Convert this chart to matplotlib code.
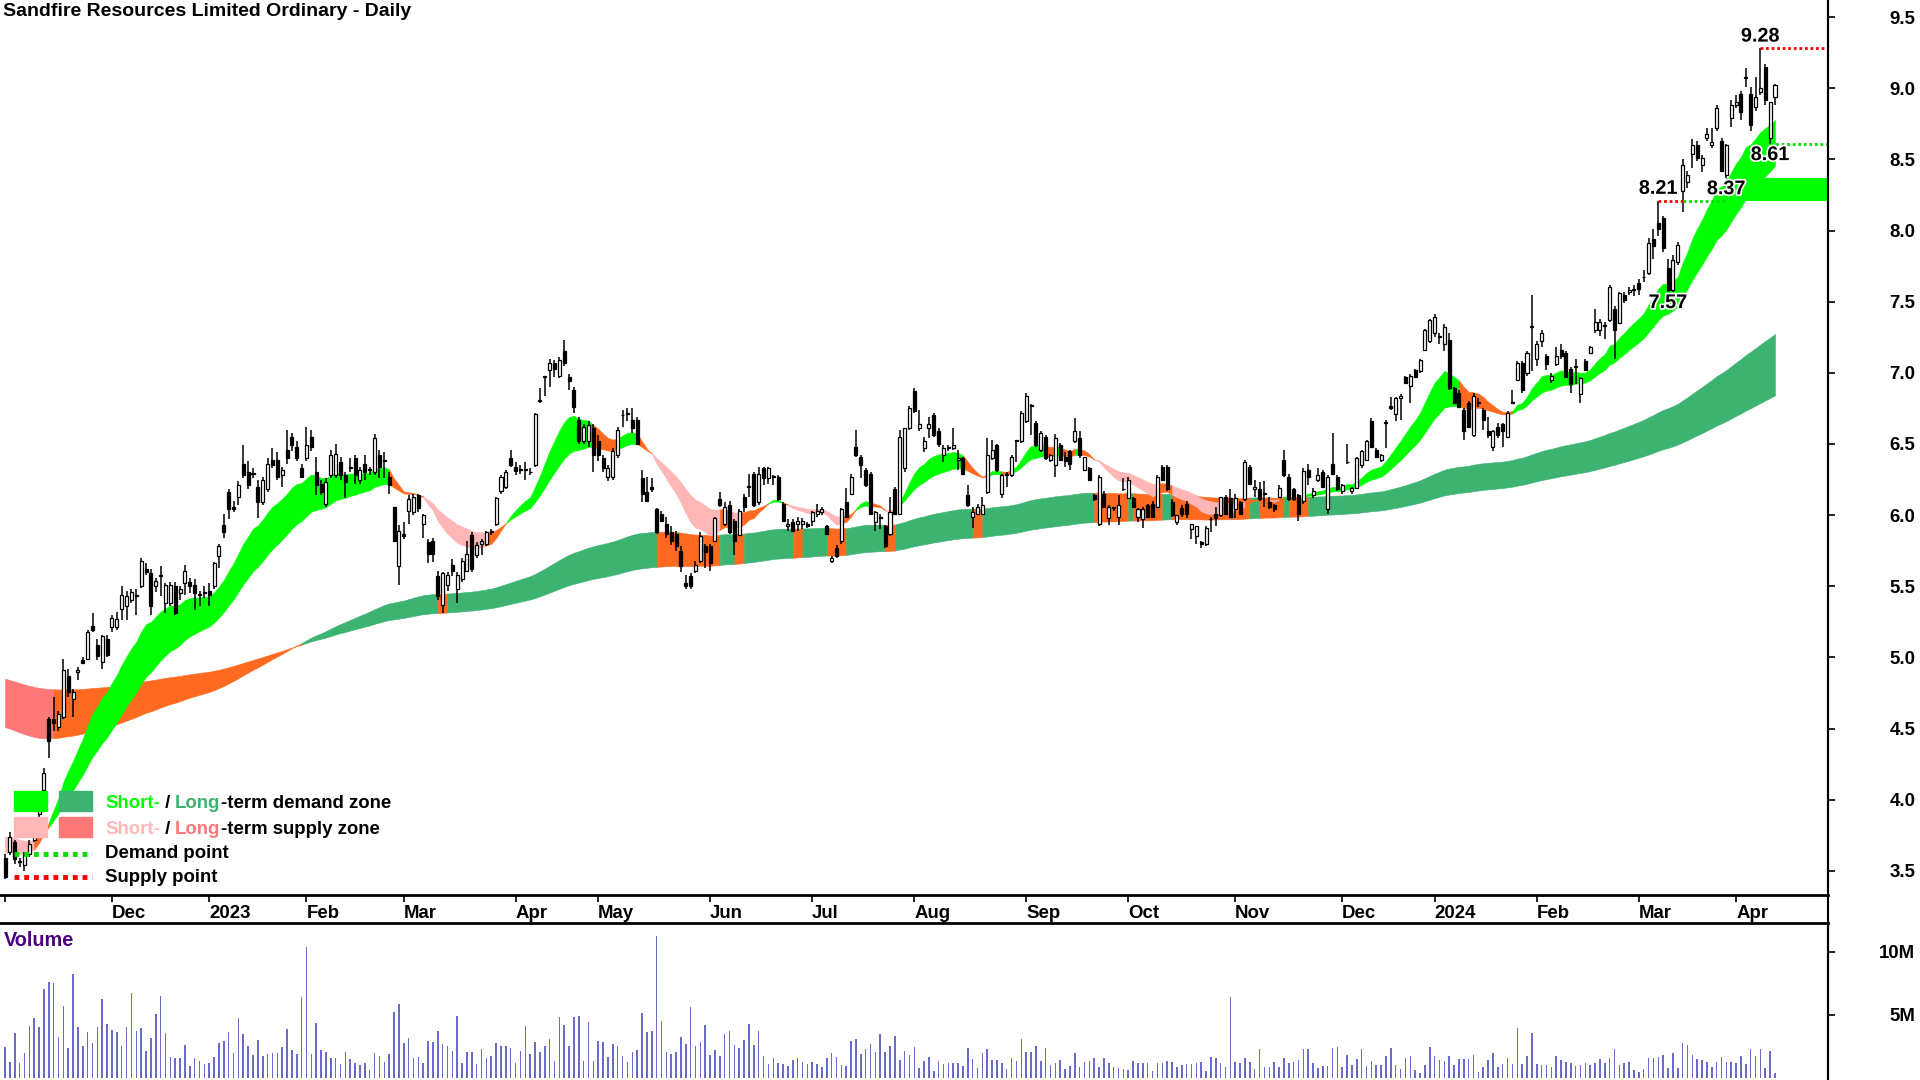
import numpy as np
import pandas as pd
import matplotlib
matplotlib.use("Agg")
import matplotlib.pyplot as plt
import matplotlib.patheffects as pe
from matplotlib import font_manager
from matplotlib.lines import Line2D
from matplotlib.patches import Rectangle
from matplotlib.offsetbox import TextArea, HPacker, AnnotationBbox

plt.rcParams['font.family'] = ['Liberation Sans', 'DejaVu Sans']
plt.rcParams['font.weight'] = 'bold'

# labels on the reference use a condensed bold face; fall back to normal width if missing
try:
    font_manager.findfont(font_manager.FontProperties(family="Liberation Sans Narrow"),
                          fallback_to_default=False)
    NARROW, SCALE = ["Liberation Sans Narrow", "Liberation Sans"], 1.0
except ValueError:
    NARROW, SCALE = ["Liberation Sans", "DejaVu Sans"], 0.84

title = "Sandfire Resources Limited Ordinary - Daily"

# daily candles (open, high, low, close)
nov22 = [(3.59, 3.62, 3.44, 3.46), (3.63, 3.77, 3.61, 3.74), (3.70, 3.72, 3.55, 3.58),
         (3.57, 3.59, 3.53, 3.56), (3.54, 3.63, 3.50, 3.61), (3.62, 3.72, 3.60, 3.69),
         (3.72, 3.84, 3.70, 3.81), (3.90, 4.06, 3.88, 4.02), (4.07, 4.22, 4.02, 4.19),
         (4.57, 4.58, 4.29, 4.41), (4.57, 4.72, 4.48, 4.54), (4.51, 4.62, 4.48, 4.60),
         (4.58, 4.99, 4.57, 4.91), (4.87, 4.92, 4.72, 4.76), (4.71, 4.78, 4.58, 4.76),
         (4.90, 4.93, 4.84, 4.91), (4.98, 5.00, 4.95, 4.96), (4.99, 5.19, 4.98, 5.18),
         (5.22, 5.31, 5.18, 5.19), (5.09, 5.13, 4.98, 5.01), (4.97, 5.16, 4.92, 5.15),
         (5.13, 5.16, 5.00, 5.02)]
dec22 = [(5.21, 5.30, 5.18, 5.28), (5.21, 5.32, 5.19, 5.27), (5.34, 5.50, 5.26, 5.44),
         (5.36, 5.47, 5.26, 5.43), (5.40, 5.48, 5.38, 5.46), (5.43, 5.48, 5.30, 5.43),
         (5.50, 5.70, 5.49, 5.68), (5.62, 5.66, 5.58, 5.60), (5.59, 5.62, 5.30, 5.36),
         (5.50, 5.56, 5.46, 5.54), (5.57, 5.64, 5.43, 5.57), (5.38, 5.52, 5.31, 5.51),
         (5.38, 5.53, 5.36, 5.51), (5.50, 5.53, 5.30, 5.31), (5.45, 5.50, 5.40, 5.48),
         (5.52, 5.65, 5.44, 5.61), (5.53, 5.56, 5.45, 5.50), (5.51, 5.55, 5.33, 5.45),
         (5.44, 5.47, 5.36, 5.44), (5.45, 5.50, 5.42, 5.45)]
jan23 = [(5.47, 5.52, 5.36, 5.44), (5.50, 5.67, 5.48, 5.66), (5.71, 5.80, 5.63, 5.78),
         (5.93, 6.01, 5.84, 5.88), (6.16, 6.18, 5.97, 6.04), (6.06, 6.10, 6.02, 6.04),
         (6.13, 6.24, 6.07, 6.21), (6.36, 6.49, 6.26, 6.28), (6.30, 6.38, 6.18, 6.21),
         (6.29, 6.33, 6.26, 6.29), (6.20, 6.25, 5.98, 6.09), (6.09, 6.27, 6.07, 6.25),
         (6.18, 6.40, 6.16, 6.36), (6.39, 6.47, 6.33, 6.35), (6.39, 6.44, 6.25, 6.27),
         (6.28, 6.34, 6.20, 6.32), (6.46, 6.60, 6.36, 6.40), (6.55, 6.58, 6.45, 6.49),
         (6.48, 6.52, 6.38, 6.40), (6.33, 6.36, 6.26, 6.27)]
feb23 = [(6.40, 6.62, 6.38, 6.49), (6.55, 6.60, 6.45, 6.48), (6.30, 6.41, 6.14, 6.21),
         (6.22, 6.25, 6.14, 6.16), (6.08, 6.26, 6.06, 6.23), (6.28, 6.46, 6.26, 6.42),
         (6.28, 6.50, 6.26, 6.43), (6.37, 6.41, 6.25, 6.28), (6.28, 6.30, 6.12, 6.23),
         (6.33, 6.40, 6.30, 6.33), (6.40, 6.42, 6.22, 6.28), (6.25, 6.34, 6.22, 6.32),
         (6.36, 6.42, 6.25, 6.30), (6.32, 6.34, 6.28, 6.32), (6.30, 6.57, 6.28, 6.54),
         (6.42, 6.46, 6.26, 6.34), (6.39, 6.44, 6.26, 6.38), (6.27, 6.30, 6.15, 6.21),
         (6.06, 6.06, 5.81, 5.82), (5.64, 5.93, 5.51, 5.89)]
mar23 = [(5.87, 5.95, 5.83, 5.85), (6.03, 6.14, 5.94, 6.11), (6.02, 6.15, 6.00, 6.13),
         (6.14, 6.15, 6.02, 6.05), (5.94, 6.01, 5.84, 6.00), (5.81, 5.83, 5.66, 5.73),
         (5.82, 5.84, 5.67, 5.73), (5.57, 5.61, 5.40, 5.43), (5.37, 5.60, 5.31, 5.59),
         (5.51, 5.60, 5.47, 5.58), (5.65, 5.69, 5.57, 5.61), (5.48, 5.60, 5.38, 5.58),
         (5.55, 5.70, 5.53, 5.68), (5.61, 5.82, 5.60, 5.73), (5.86, 5.88, 5.60, 5.62),
         (5.72, 5.81, 5.70, 5.79), (5.80, 5.83, 5.72, 5.82), (5.80, 5.89, 5.78, 5.88),
         (5.88, 5.90, 5.86, 5.89), (5.94, 6.13, 5.92, 6.12), (6.17, 6.28, 6.15, 6.27),
         (6.20, 6.32, 6.18, 6.30), (6.40, 6.46, 6.34, 6.35)]
apr23 = [(6.34, 6.37, 6.28, 6.31), (6.32, 6.35, 6.29, 6.32), (6.32, 6.37, 6.25, 6.32),
         (6.30, 6.33, 6.28, 6.30), (6.35, 6.72, 6.34, 6.71), (6.80, 6.89, 6.79, 6.81),
         (6.97, 6.98, 6.84, 6.97), (7.02, 7.10, 6.90, 7.07), (7.07, 7.09, 6.97, 7.03),
         (6.98, 7.11, 6.96, 7.09), (7.15, 7.23, 7.05, 7.07), (6.97, 6.99, 6.88, 6.94),
         (6.88, 6.90, 6.72, 6.76), (6.67, 6.69, 6.50, 6.52), (6.52, 6.64, 6.50, 6.62),
         (6.52, 6.66, 6.48, 6.63), (6.61, 6.64, 6.30, 6.42)]
may23 = [(6.52, 6.56, 6.38, 6.42), (6.40, 6.42, 6.30, 6.33), (6.27, 6.35, 6.24, 6.33),
         (6.27, 6.47, 6.25, 6.45), (6.42, 6.62, 6.40, 6.60), (6.70, 6.74, 6.62, 6.70),
         (6.71, 6.75, 6.66, 6.71), (6.67, 6.75, 6.58, 6.61), (6.67, 6.69, 6.49, 6.50),
         (6.26, 6.32, 6.09, 6.15), (6.16, 6.27, 6.09, 6.10), (6.20, 6.26, 6.16, 6.18),
         (6.04, 6.05, 5.87, 5.88), (6.01, 6.03, 5.95, 5.96), (5.94, 5.99, 5.84, 5.87),
         (5.88, 5.92, 5.79, 5.82), (5.87, 5.89, 5.75, 5.78), (5.75, 5.78, 5.60, 5.64),
         (5.52, 5.58, 5.48, 5.50), (5.57, 5.59, 5.48, 5.50), (5.61, 5.68, 5.59, 5.65),
         (5.68, 5.88, 5.66, 5.85), (5.78, 5.80, 5.63, 5.74)]
jun23 = [(5.78, 5.80, 5.61, 5.66), (5.82, 5.99, 5.81, 5.98), (6.11, 6.16, 6.06, 6.07),
         (5.94, 6.09, 5.92, 6.06), (6.07, 6.10, 5.87, 5.88), (5.96, 5.97, 5.72, 5.82),
         (5.86, 6.04, 5.85, 6.03), (6.13, 6.15, 6.02, 6.06), (6.20, 6.29, 6.13, 6.20),
         (6.29, 6.30, 6.06, 6.07), (6.09, 6.34, 6.07, 6.29), (6.33, 6.34, 6.21, 6.26),
         (6.26, 6.34, 6.22, 6.33), (6.27, 6.28, 6.21, 6.27), (6.27, 6.28, 6.10, 6.11),
         (6.08, 6.09, 5.95, 5.96), (5.92, 5.97, 5.89, 5.94), (5.95, 5.97, 5.88, 5.89),
         (5.94, 5.99, 5.89, 5.96), (5.94, 5.98, 5.90, 5.96), (5.94, 5.95, 5.91, 5.92)]
jul23 = [(5.96, 6.03, 5.92, 6.02), (6.01, 6.08, 5.99, 6.03), (6.02, 6.06, 6.00, 6.04),
         (5.92, 5.93, 5.86, 5.87), (5.68, 5.71, 5.66, 5.70), (5.77, 5.79, 5.70, 5.71),
         (5.82, 6.05, 5.80, 6.04), (6.09, 6.19, 5.98, 5.99), (6.15, 6.29, 6.14, 6.27),
         (6.48, 6.60, 6.41, 6.42), (6.41, 6.42, 6.26, 6.35), (6.32, 6.33, 6.20, 6.21),
         (6.29, 6.30, 6.00, 6.01), (5.95, 6.03, 5.89, 6.02), (5.98, 6.01, 5.90, 5.98),
         (5.92, 5.93, 5.77, 5.78), (5.87, 6.13, 5.85, 6.02), (6.18, 6.20, 6.00, 6.01),
         (6.01, 6.60, 6.00, 6.55), (6.33, 6.61, 6.30, 6.61), (6.61, 6.77, 6.60, 6.75)]
aug23 = [(6.87, 6.89, 6.72, 6.73), (6.61, 6.74, 6.59, 6.64), (6.47, 6.55, 6.44, 6.52),
         (6.61, 6.69, 6.54, 6.64), (6.70, 6.72, 6.55, 6.56), (6.59, 6.61, 6.48, 6.50),
         (6.42, 6.49, 6.37, 6.47), (6.47, 6.49, 6.45, 6.47), (6.47, 6.61, 6.46, 6.49),
         (6.39, 6.46, 6.32, 6.40), (6.40, 6.41, 6.28, 6.29), (6.14, 6.21, 6.06, 6.07),
         (5.99, 6.06, 5.91, 6.02), (6.01, 6.08, 6.00, 6.06), (6.01, 6.13, 6.00, 6.07),
         (6.16, 6.54, 6.15, 6.42), (6.40, 6.53, 6.39, 6.46), (6.49, 6.50, 6.30, 6.32),
         (6.15, 6.29, 6.12, 6.28), (6.28, 6.30, 6.20, 6.28), (6.28, 6.42, 6.27, 6.41),
         (6.52, 6.53, 6.37, 6.52), (6.52, 6.73, 6.51, 6.72)]
sep23 = [(6.66, 6.86, 6.65, 6.84), (6.77, 6.78, 6.56, 6.77), (6.65, 6.66, 6.48, 6.49),
         (6.46, 6.59, 6.44, 6.58), (6.55, 6.56, 6.39, 6.40), (6.39, 6.43, 6.37, 6.42),
         (6.35, 6.57, 6.27, 6.54), (6.49, 6.51, 6.38, 6.39), (6.41, 6.44, 6.34, 6.38),
         (6.45, 6.46, 6.32, 6.36), (6.52, 6.68, 6.51, 6.59), (6.54, 6.59, 6.40, 6.42),
         (6.32, 6.41, 6.31, 6.41), (6.33, 6.34, 6.24, 6.25), (6.14, 6.15, 6.10, 6.11),
         (5.94, 6.28, 5.92, 6.27), (6.15, 6.17, 6.05, 6.06), (5.98, 6.07, 5.93, 6.06),
         (6.05, 6.06, 6.03, 6.05), (5.99, 6.14, 5.93, 6.07), (6.18, 6.26, 6.17, 6.18)]
oct23 = [(6.12, 6.27, 6.11, 6.25), (6.12, 6.13, 6.05, 6.06), (5.99, 6.05, 5.95, 6.04),
         (5.97, 6.06, 5.91, 6.04), (6.07, 6.08, 5.98, 5.99), (6.08, 6.10, 5.98, 5.99),
         (6.06, 6.28, 6.05, 6.27), (6.34, 6.35, 6.24, 6.25), (6.34, 6.35, 6.17, 6.18),
         (6.09, 6.11, 5.99, 6.00), (5.95, 6.00, 5.93, 6.00), (6.05, 6.07, 5.99, 6.01),
         (6.08, 6.10, 5.98, 6.01), (5.90, 5.94, 5.83, 5.94), (5.85, 5.92, 5.80, 5.92),
         (5.81, 5.82, 5.77, 5.80), (5.80, 5.92, 5.78, 5.91), (5.97, 5.99, 5.88, 5.97),
         (6.01, 6.06, 5.92, 5.98), (6.00, 6.13, 5.99, 6.13), (6.13, 6.14, 6.00, 6.01),
         (6.12, 6.18, 5.98, 5.99)]
nov23 = [(6.04, 6.15, 5.98, 6.12), (6.09, 6.10, 6.00, 6.01), (6.11, 6.39, 6.10, 6.37),
         (6.34, 6.35, 6.21, 6.22), (6.18, 6.25, 6.13, 6.20), (6.18, 6.23, 6.10, 6.11),
         (6.15, 6.24, 6.06, 6.15), (6.09, 6.13, 6.04, 6.06), (6.07, 6.08, 6.02, 6.04),
         (6.13, 6.21, 6.12, 6.19), (6.39, 6.46, 6.27, 6.28), (6.27, 6.29, 6.10, 6.11),
         (6.18, 6.19, 6.10, 6.11), (6.14, 6.15, 5.96, 6.01), (6.10, 6.33, 6.08, 6.31),
         (6.32, 6.36, 6.21, 6.27), (6.14, 6.19, 6.12, 6.17), (6.25, 6.33, 6.23, 6.28),
         (6.30, 6.32, 6.19, 6.20), (6.04, 6.28, 6.01, 6.27), (6.36, 6.58, 6.28, 6.29),
         (6.27, 6.28, 6.17, 6.18)]
dec23 = [(6.17, 6.22, 6.15, 6.21), (6.37, 6.50, 6.36, 6.37), (6.17, 6.20, 6.15, 6.19),
         (6.19, 6.41, 6.18, 6.40), (6.35, 6.46, 6.33, 6.45), (6.39, 6.53, 6.38, 6.52),
         (6.66, 6.68, 6.47, 6.48), (6.46, 6.47, 6.40, 6.41), (6.39, 6.43, 6.37, 6.42),
         (6.65, 6.67, 6.47, 6.65), (6.77, 6.83, 6.74, 6.75), (6.71, 6.83, 6.66, 6.82),
         (6.82, 6.85, 6.67, 6.84), (6.97, 6.98, 6.92, 6.93), (6.91, 6.99, 6.79, 6.98),
         (7.02, 7.03, 6.96, 6.97), (7.01, 7.10, 7.00, 7.09), (7.16, 7.31, 7.15, 7.30),
         (7.22, 7.38, 7.21, 7.37)]
jan24 = [(7.28, 7.41, 7.25, 7.39), (7.25, 7.28, 7.20, 7.25), (7.20, 7.34, 7.15, 7.32),
         (7.23, 7.28, 6.88, 6.89), (6.89, 6.90, 6.78, 6.79), (6.86, 6.88, 6.75, 6.76),
         (6.74, 6.75, 6.53, 6.59), (6.79, 6.80, 6.61, 6.62), (6.56, 6.86, 6.55, 6.84),
         (6.79, 6.82, 6.76, 6.79), (6.74, 6.75, 6.60, 6.67), (6.59, 6.69, 6.54, 6.56),
         (6.48, 6.60, 6.45, 6.59), (6.62, 6.65, 6.54, 6.56), (6.64, 6.65, 6.48, 6.59),
         (6.55, 6.73, 6.54, 6.72), (6.79, 6.88, 6.78, 6.79), (6.95, 7.08, 6.94, 7.07),
         (7.07, 7.08, 6.86, 6.88), (7.00, 7.15, 6.98, 7.14), (7.32, 7.55, 7.01, 7.32)]
feb24 = [(7.10, 7.22, 7.05, 7.20), (7.22, 7.30, 7.18, 7.28), (7.12, 7.13, 7.02, 7.06),
         (6.95, 7.00, 6.93, 6.98), (7.06, 7.18, 7.05, 7.12), (7.16, 7.20, 7.10, 7.12),
         (7.14, 7.15, 6.96, 6.97), (7.03, 7.04, 6.86, 6.92), (7.04, 7.10, 6.92, 7.05),
         (6.85, 6.97, 6.79, 6.96), (7.08, 7.10, 7.01, 7.02), (7.14, 7.19, 7.13, 7.18),
         (7.30, 7.45, 7.28, 7.36), (7.30, 7.38, 7.26, 7.36), (7.33, 7.36, 7.24, 7.33),
         (7.37, 7.62, 7.36, 7.60), (7.45, 7.47, 7.10, 7.30), (7.35, 7.57, 7.34, 7.56),
         (7.55, 7.57, 7.49, 7.51), (7.57, 7.60, 7.55, 7.58), (7.58, 7.62, 7.54, 7.59)]
mar24 = [(7.63, 7.66, 7.55, 7.59), (7.67, 7.72, 7.64, 7.67), (7.70, 7.95, 7.69, 7.91),
         (7.94, 8.01, 7.80, 7.89), (8.05, 8.21, 7.96, 8.01), (8.09, 8.10, 7.85, 7.88),
         (7.74, 7.80, 7.57, 7.58), (7.58, 7.83, 7.57, 7.79), (7.78, 7.92, 7.76, 7.90),
         (8.28, 8.50, 8.13, 8.46), (8.34, 8.42, 8.30, 8.39), (8.54, 8.64, 8.44, 8.60),
         (8.60, 8.63, 8.49, 8.51), (8.46, 8.53, 8.41, 8.51), (8.65, 8.72, 8.63, 8.68),
         (8.60, 8.72, 8.58, 8.62), (8.72, 8.88, 8.70, 8.86), (8.63, 8.65, 8.41, 8.42),
         (8.39, 8.61, 8.37, 8.60), (8.79, 8.92, 8.73, 8.88)]
apr24 = [(8.88, 8.95, 8.86, 8.90), (8.96, 8.98, 8.78, 8.83), (9.08, 9.14, 9.01, 9.07),
         (8.96, 9.01, 8.70, 8.74), (8.87, 9.08, 8.84, 8.94), (8.97, 9.28, 8.95, 9.00),
         (9.15, 9.17, 8.88, 8.92), (8.65, 8.90, 8.61, 8.90), (8.94, 9.03, 8.88, 9.02)]

# daily volume, millions of shares
volume = [
    2.45, 1.32, 3.55, 1.18, 1.97, 4.16, 4.74, 4.08, 7.03, 7.63, 7.50, 3.29, 5.74, 2.37, 8.21, 4.08,
    2.58, 3.63, 2.76, 4.08, 6.24, 4.26, 3.82, 3.68, 2.58, 4.08, 6.71, 3.74, 3.95, 2.18, 3.16, 5.05,
    6.53, 3.55, 1.66, 1.63, 1.63, 2.63, 1.00, 1.58, 1.39, 1.11, 1.18, 1.71, 2.76, 2.97, 3.63, 1.97,
    4.74, 3.47, 2.58, 1.84, 3.03, 1.79, 1.89, 1.97, 1.97, 2.50, 3.87, 2.24, 1.89, 6.45, 10.34, 1.89,
    4.34, 2.24, 2.11, 1.63, 1.58, 1.11, 2.11, 1.50, 1.18, 1.05, 1.24, 0.66, 2.03, 1.76, 1.32, 1.89,
    5.26, 5.84, 2.82, 3.16, 1.63, 1.71, 1.24, 2.97, 2.84, 3.76, 2.71, 2.58, 2.18, 4.95, 1.18, 2.05,
    2.11, 1.11, 2.29, 1.63, 1.79, 2.82, 2.58, 2.58, 2.37, 1.18, 2.18, 4.16, 1.89, 2.89, 2.05, 2.58,
    3.08, 1.39, 4.87, 4.21, 2.58, 4.87, 4.95, 1.39, 4.42, 1.37, 2.95, 2.84, 1.66, 2.68, 2.58, 1.79,
    1.32, 2.05, 2.24, 5.13, 3.63, 3.76, 11.26, 4.55, 2.11, 1.89, 2.05, 3.24, 2.71, 5.66, 2.55, 2.89,
    4.21, 1.84, 2.24, 1.79, 3.47, 3.76, 2.63, 2.37, 3.03, 4.32, 2.63, 3.76, 1.76, 1.11, 1.63, 1.24,
    1.16, 0.97, 1.45, 1.63, 1.32, 1.11, 1.32, 1.11, 0.87, 1.58, 2.03, 1.71, 1.05, 1.00, 2.97, 3.08,
    1.89, 2.29, 2.71, 2.05, 3.47, 2.11, 2.58, 3.37, 1.45, 2.18, 1.84, 2.50, 0.84, 1.39, 1.71, 0.58,
    1.37, 1.11, 1.18, 1.24, 1.24,
    1.00, 2.42, 1.53, 0.79, 1.97, 2.29, 1.45, 1.45, 1.24, 0.71, 1.58, 1.39, 3.08, 2.05, 2.11, 2.58,
    1.39, 2.42, 1.05, 1.24, 1.45, 0.71, 0.97, 2.03, 0.87, 1.32, 1.39, 1.58, 0.87, 1.58, 1.24, 0.87,
    0.84, 0.74, 0.66, 1.39, 1.18, 1.24, 1.24, 0.61, 1.24, 1.18, 1.39, 1.32, 0.92, 1.05, 1.11, 1.11,
    1.18, 1.26, 0.61, 1.71, 1.58, 1.24, 0.87, 6.45, 1.32, 1.18, 1.58, 1.32, 0.71, 2.29, 0.87, 0.87,
    1.32, 0.92, 1.58, 1.24, 1.32, 1.45, 2.29, 2.29, 1.18, 0.79, 1.00, 1.00, 2.42, 2.50, 0.87, 1.82,
    1.05, 1.53, 2.29, 1.00, 1.39, 1.05, 1.05, 1.76, 2.37, 1.05, 0.71, 1.58, 1.79, 0.66, 0.39, 1.05,
    2.50, 1.79, 1.45, 1.39, 1.79, 1.05, 1.53, 1.53, 1.53, 1.84, 0.53, 0.92, 1.45, 1.97, 0.87, 1.13,
    1.63, 1.11, 3.95, 1.11, 1.76, 3.61, 1.16, 1.05, 1.05, 0.92, 1.76, 1.45, 1.32, 1.18, 0.97, 1.05,
    1.18, 1.05, 1.24, 1.50, 1.24, 1.58, 2.29, 1.05, 1.24, 1.32, 0.66, 0.53, 0.71, 1.63, 1.58, 1.66,
    1.84, 0.79, 1.97, 0.79, 2.82, 2.63, 1.84, 1.50, 1.45, 1.32, 0.92, 1.26, 1.71, 1.32, 1.32, 1.18,
    1.76, 1.13, 2.29, 1.76, 2.29, 0.79, 2.18, 0.39]

asx_holidays = ["2022-12-26", "2022-12-27", "2023-01-02", "2023-01-26", "2023-04-07",
                "2023-04-10", "2023-04-25", "2023-06-12", "2023-12-25", "2023-12-26",
                "2024-01-01", "2024-01-26", "2024-03-29", "2024-04-01"]

# demand / supply points (date, price)
supply_points = [("2024-03-07", 8.21), ("2024-04-09", 9.28)]
demand_points = [("2024-03-11", 7.57), ("2024-03-27", 8.37), ("2024-04-11", 8.61)]
supply_break = "2024-03-14"

# band seeds at the first bar (fast, slow) and EMA periods
short_seed, short_periods = (3.62, 3.74), (15, 30)
long_seed, long_periods = (4.51, 4.85), (140, 240)

GREEN, DGREEN, PINK, SALMON, ORANGE = "#00FF00", "#3CB371", "#FFB6B6", "#FF7878", "#FF6A20"

candles = np.array(nov22 + dec22 + jan23 + feb23 + mar23 + apr23 + may23 + jun23 + jul23 +
                   aug23 + sep23 + oct23 + nov23 + dec23 + jan24 + feb24 + mar24 + apr24)
o, h, l, c = candles.T
n = len(c)
x = np.arange(n)

days = pd.bdate_range("2022-10-01", "2024-04-12")
days = days[~days.isin(pd.to_datetime(asx_holidays))][-n:]


def idx(d):
    return int(days.get_loc(pd.Timestamp(d)))


def ema(v, period, seed):
    a = 2.0 / (period + 1)
    out = np.empty(len(v))
    out[0] = seed
    for i in range(1, len(v)):
        out[i] = out[i - 1] + a * (v[i] - out[i - 1])
    return out


def short_colours(fast, slow):
    # a short zone keeps its colour until price closes right through the band
    cols, state = [], None
    for ci, f, s in zip(c, fast, slow):
        top, bot = max(f, s), min(f, s)
        if f >= s:
            if state == GREEN:
                state = GREEN if ci >= bot else ORANGE
            else:
                state = GREEN if ci > top else ORANGE
        else:
            if state == PINK:
                state = PINK if ci <= top else ORANGE
            else:
                state = PINK if ci < bot else ORANGE
        cols.append(state)
    return cols


def long_colours(fast, slow):
    # the long zone flips on a close against the fast edge, needs two closes to flip back
    cols, state, prev_ok = [], None, False
    for ci, f, s in zip(c, fast, slow):
        good, bad = (DGREEN, ORANGE) if f >= s else (SALMON, ORANGE)
        ok = ci >= f if f >= s else ci < f
        if state not in (good, bad):
            state = good if ok else bad
        elif state == good and not ok:
            state = bad
        elif state == bad and ok and prev_ok:
            state = good
        prev_ok = ok
        cols.append(state)
    return cols


def draw_band(ax, fast, slow, cols, z):
    start = 0
    for i in range(1, n + 1):
        if i == n or cols[i] != cols[start]:
            end = min(i + 1, n)
            ax.fill_between(x[start:end], fast[start:end], slow[start:end],
                            color=cols[start], lw=0.4, ec=cols[start], zorder=z)
            start = i


sf, ss = ema(c, short_periods[0], short_seed[0]), ema(c, short_periods[1], short_seed[1])
lf, ls = ema(c, long_periods[0], long_seed[0]), ema(c, long_periods[1], long_seed[1])

fig = plt.figure(figsize=(19.2, 10.8), dpi=100, facecolor="white")
W, H = 1920, 1080
ax = fig.add_axes([0, 1 - 895 / H, 1828 / W, 895 / H])
axv = fig.add_axes([0, 0, 1828 / W, (H - 923) / H])

xmin, xmax = -1.03, 374.9
draw_band(ax, lf, ls, long_colours(lf, ls), 1)
draw_band(ax, sf, ss, short_colours(sf, ss), 2)

# demand zone between the two demand points
zlo = [p for d, p in supply_points if d == "2024-03-07"][0]
zhi = [p for d, p in demand_points if d == "2024-03-27"][0]
ax.fill_between([idx("2024-03-27"), xmax], zlo, zhi, color=GREEN, lw=0, zorder=2)

# candles
up = c >= o
ax.vlines(x, np.minimum(l, np.minimum(o, c)), np.maximum(h, np.maximum(o, c)),
          color="black", lw=1.1, zorder=4)
ax.bar(x, np.maximum(np.abs(c - o), 0.006), bottom=np.minimum(o, c), width=0.62,
       color=np.where(up, "white", "black"), edgecolor="black", linewidth=0.9, zorder=5)

# supply / demand point lines and labels
dots = dict(lw=2.0, dashes=(1, 1), zorder=6)
outline = [pe.withStroke(linewidth=2.5, foreground="white")]
d0, p0 = supply_points[0]
ax.plot([idx(d0), idx(supply_break)], [p0, p0], color="red", **dots)
ax.plot([idx(supply_break), idx("2024-03-27")], [p0, p0], color="#00DD00", **dots)
d1, p1 = supply_points[1]
ax.plot([idx(d1), xmax], [p1, p1], color="red", **dots)
d2, p2 = demand_points[2]
ax.plot([idx(d2), xmax], [p2, p2], color="#00DD00", **dots)
lab = dict(fontsize=17 * SCALE, fontweight="bold", family=NARROW, zorder=7,
           path_effects=outline, textcoords="offset points", ha="center")
for d, p in supply_points:
    ax.annotate(f"{p:.2f}", (idx(d), p), xytext=(0, 2), va="bottom", **lab)
for d, p in demand_points:
    ax.annotate(f"{p:.2f}", (idx(d), p), xytext=(0, -1), va="top", **lab)

ax.set_xlim(xmin, xmax)
ax.set_ylim(3.33, 9.62)
ax.yaxis.tick_right()
yt = np.arange(3.5, 9.51, 0.5)
ax.set_yticks(yt)
ax.set_yticklabels([f"{v:.1f}" for v in yt])

month_starts = days.to_series().groupby([days.year, days.month]).first()
mt = [idx(d) for d in month_starts]
ml = ["" if i == 0 else (str(d.year) if d.month == 1 else d.strftime("%b"))
      for i, d in enumerate(month_starts)]
ax.set_xticks(mt)
ax.set_xticklabels(ml)
for t in ax.get_xticklabels():
    t.set_horizontalalignment("left")
    t.set_family(NARROW)
    t.set_fontsize(16 * SCALE)

# volume panel
axv.bar(x[:len(volume)], volume[:n], width=0.32, color="#6B6BC8", lw=0)
axv.set_xlim(xmin, xmax)
axv.set_ylim(-0.13, 12.26)
axv.yaxis.tick_right()
axv.set_yticks([5, 10])
axv.set_yticklabels(["5M", "10M"])
axv.set_xticks([])
axv.spines["bottom"].set_visible(False)
axv.spines["top"].set_linewidth(2)
axv.text(4 / 1828, 1 - 18 / 157, "Volume", transform=axv.transAxes, color="#4B0082",
         fontsize=17 * SCALE, fontweight="bold", family=NARROW, va="center", ha="left")

for a in (ax, axv):
    a.spines["left"].set_visible(False)
    a.spines["right"].set_linewidth(1.5)
    a.tick_params(axis="y", direction="out", length=5, width=1.2, pad=58)
    for t in a.get_yticklabels():
        t.set_horizontalalignment("right")
        t.set_family(NARROW)
        t.set_fontsize(16 * SCALE)
ax.spines["top"].set_visible(False)
ax.spines["bottom"].set_linewidth(2)
ax.tick_params(axis="x", direction="out", length=5, width=1.2, pad=2)

fig.add_artist(Line2D([1828 / W, 1828 / W], [0, 1], color="black", lw=1.5,
                      transform=fig.transFigure))

fig.text(3 / W, 1 - 3 / H, title, ha="left", va="top", fontsize=14, fontweight="bold")


# legend
def fx(px):
    return px / W


def fy(py):
    return 1 - py / H


legend_boxes = [(14, 791, GREEN), (59, 791, DGREEN), (14, 817, PINK), (59, 817, SALMON)]
for bx, by, col in legend_boxes:
    fig.add_artist(Rectangle((fx(bx), fy(by + 20)), 33 / W, 20 / H, color=col,
                             transform=fig.transFigure, zorder=8))
fig.add_artist(Line2D([fx(14), fx(92)], [fy(854), fy(854)], color="#00DD00", lw=3.5,
                      dashes=(1, 1), transform=fig.transFigure, zorder=8))
fig.add_artist(Line2D([fx(14), fx(92)], [fy(877), fy(877)], color="red", lw=3.5,
                      dashes=(1, 1), transform=fig.transFigure, zorder=8))

rows = [(803, [("Short-", GREEN), (" / ", "black"), ("Long", DGREEN),
               ("-term demand zone", "black")]),
        (829, [("Short-", PINK), (" / ", "black"), ("Long", SALMON),
               ("-term supply zone", "black")]),
        (854, [("Demand point", "black")]),
        (877, [("Supply point", "black")])]
for ry, parts in rows:
    pack = HPacker(children=[TextArea(t, textprops=dict(color=col, fontsize=16 * SCALE,
                                                        fontweight="bold", family=NARROW))
                             for t, col in parts], align="baseline", pad=0, sep=0)
    ab = AnnotationBbox(pack, (fx(105), fy(ry)), xycoords="figure fraction",
                        box_alignment=(0, 0.5), frameon=False, pad=0, zorder=8)
    fig.add_artist(ab)

fig.savefig("out.png", dpi=100, facecolor="white")
